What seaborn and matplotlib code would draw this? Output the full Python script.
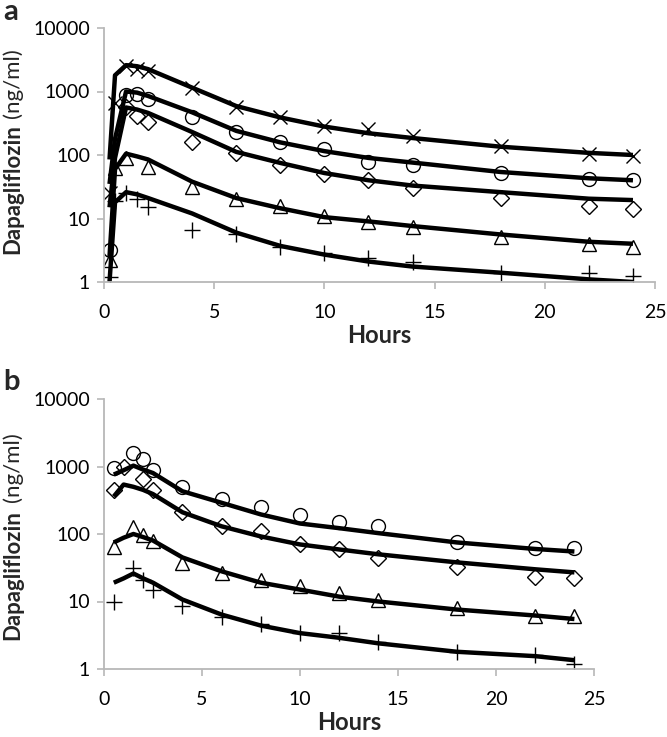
import numpy as np
import pandas as pd
import seaborn as sns
import matplotlib
matplotlib.use('Agg')
import matplotlib.pyplot as plt
from matplotlib.ticker import FixedLocator, FixedFormatter, NullLocator

# ---- panel a: observed and model, 5 dose groups ----
time_a = [0.25, 0.5, 1, 1.5, 2, 4, 6, 8, 10, 12, 14, 18, 22, 24]
nan = np.nan
obs_a = {
    'x':  [25, 650, 2500, 2300, 2100, 1150, 580, 390, 290, 255, 200, 140, 105, 95],
    'o':  [3.2, nan, 870, 930, 760, 390, 230, 160, 125, 78, 70, 52, 42, 40],
    'D':  [nan, nan, 560, 410, 330, 160, 108, 70, 50, 40, 30, 21, 15.5, 14],
    '^':  [2.2, 62, 90, nan, 65, 31, 20, 15.5, 11, 8.7, 7.4, 5.2, 3.9, 3.6],
    '+':  [1.2, 19, 25, 20, 15, 6.7, 5.6, 3.6, 2.9, 2.4, 2.1, 1.4, 1.4, 1.25],
}
fit_a = {
    'x':  [85, 1800, 2600, 2500, 2250, 1150, 590, 390, 280, 220, 185, 135, 108, 100],
    'o':  [35, 180, 1000, 960, 850, 470, 240, 158, 115, 90, 76, 54, 43, 40],
    'D':  [15, 90, 560, 520, 460, 230, 112, 75, 52, 40, 33, 26, 20.5, 19.5],
    '^':  [2.5, 60, 105, 95, 85, 38, 21, 14.5, 10.5, 9, 7.6, 5.6, 4.3, 4.0],
    '+':  [1.0, 18, 26, 24, 21, 12, 6, 3.7, 2.7, 2.1, 1.75, 1.4, 1.1, 1.0],
}

# ---- panel b: 4 dose groups ----
time_b = [0.5, 1, 1.5, 2, 2.5, 4, 6, 8, 10, 12, 14, 18, 22, 24]
obs_b = {
    'o':  [950, nan, 1600, 1270, 900, 500, 335, 255, 188, 153, 130, 75, 63, 63],
    'D':  [455, 980, nan, 660, 450, 210, 130, 112, 70, 59, 44, 33, 23, 22],
    '^':  [65, nan, 127, 97, 78, 37, 26, 21, 17, 13.5, 10.7, 7.9, 6.2, 6.0],
    '+':  [10, nan, 31, 21, 15, 8.5, 5.8, 4.6, 3.4, 3.4, 2.5, 1.8, 1.6, 1.2],
}
fit_b = {
    'o':  [760, 880, 1030, 900, 800, 430, 290, 195, 143, 122, 103, 75, 60, 55],
    'D':  [360, 540, 500, 450, 390, 210, 130, 92, 70, 59, 50, 38, 30, 27],
    '^':  [75, 88, 100, 90, 80, 45, 28, 19, 15, 11.8, 10, 7.6, 6.2, 5.5],
    '+':  [19, 22, 26, 22, 19, 10.7, 6.4, 4.4, 3.4, 2.9, 2.4, 1.8, 1.55, 1.35],
}

yticks = [1, 10, 100, 1000, 10000]
xticks = [0, 5, 10, 15, 20, 25]

marker_size = {'x': 10, 'o': 10, 'D': 8.5, '^': 10.5, '+': 11}

sns.set_style('white')
plt.rcParams['font.family'] = ['Lato', 'DejaVu Sans']

fig = plt.figure(figsize=(6.67, 7.37), dpi=100)
ax_a = fig.add_axes([104/667, 1-282/737, 551/667, 254/737])
ax_b = fig.add_axes([104/667, 1-669/737, 490/667, 270/737])


def draw_panel(ax, t, obs, fit):
    for key in obs:
        sns.lineplot(x=t, y=obs[key], ax=ax, linestyle='', marker=key,
                     markersize=marker_size[key], markerfacecolor='none',
                     markeredgecolor='black', markeredgewidth=1.0, color='black')
    for key in fit:
        sns.lineplot(x=t, y=fit[key], ax=ax, color='black', linewidth=3.2,
                     solid_capstyle='butt')
    ax.set_yscale('log')
    ax.set_ylim(1, 10000)
    ax.set_xlim(0, 25)
    ax.yaxis.set_major_locator(FixedLocator(yticks))
    ax.yaxis.set_major_formatter(FixedFormatter([str(v) for v in yticks]))
    ax.yaxis.set_minor_locator(NullLocator())
    ax.set_xticks(xticks)
    ax.set_xticklabels([str(v) for v in xticks])
    for s in ['top', 'right']:
        ax.spines[s].set_visible(False)
    for s in ['left', 'bottom']:
        ax.spines[s].set_color('#b8b8b8')
        ax.spines[s].set_linewidth(1.3)
    ax.tick_params(axis='both', which='major', length=5, width=1.2,
                   color='#b8b8b8', labelsize=14, labelcolor='black',
                   direction='out', left=True, bottom=True)
    ax.tick_params(axis='y', pad=5)
    ax.tick_params(axis='x', pad=11)
    ax.set_xlabel('Hours', fontsize=17, fontweight='bold', labelpad=2)
    ax.set_ylabel('')


draw_panel(ax_a, time_a, obs_a, fit_a)
draw_panel(ax_b, time_b, obs_b, fit_b)


# y labels: bold name, regular units, one line reading upward
def ylabel(bottom_px, top_px):
    fig.text(13/667, 1-bottom_px/737, 'Dapagliflozin', rotation=90,
             rotation_mode='anchor', fontsize=16, fontweight='bold',
             ha='left', va='center')
    fig.text(13/667, 1-top_px/737, '(ng/ml)', rotation=90,
             rotation_mode='anchor', fontsize=16, ha='right', va='center')


ylabel(254, 48)
ylabel(640, 432)

fig.text(3/667, 1-20/737, 'a', fontsize=21, fontweight='bold', va='baseline')
fig.text(3/667, 1-390/737, 'b', fontsize=21, fontweight='bold', va='baseline')

fig.savefig('out.png', dpi=100)
